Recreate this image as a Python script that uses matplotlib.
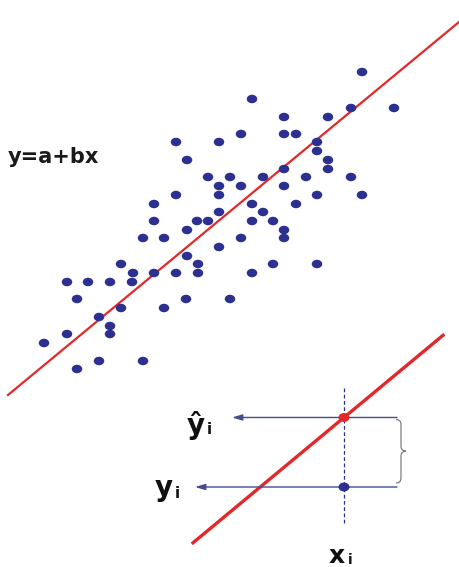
import numpy as np
import matplotlib
matplotlib.use("Agg")
import matplotlib.pyplot as plt
from matplotlib.collections import EllipseCollection
from matplotlib.path import Path
from matplotlib.patches import PathPatch

# scatter points (pixel units, y grows downward)
pts_x = [362, 252, 394, 351, 284, 328, 241, 284, 296, 176, 219, 317, 317, 187,
         328, 328, 284, 208, 230, 263, 306, 351, 219, 241, 284, 176, 219, 317,
         362, 154, 252, 296, 219, 263, 154, 197, 208, 252, 273, 187, 284, 143,
         164, 241, 284, 219, 187, 121, 198, 273, 317, 133, 154, 176, 198, 252,
         67, 88, 110, 132, 77, 186, 230, 121, 164, 99, 110, 67, 110, 44, 99,
         143, 77]
pts_y = [72, 99, 108, 108, 117, 117, 134, 134, 134, 142, 142, 142, 151, 160,
         160, 169, 169, 177, 177, 177, 177, 177, 186, 186, 186, 195, 195, 195,
         195, 204, 204, 204, 212, 212, 221, 221, 221, 221, 221, 230, 230, 238,
         238, 238, 238, 247, 256, 264, 264, 264, 264, 273, 273, 273, 273, 273,
         282, 282, 282, 282, 299, 299, 299, 308, 308, 317, 326, 334, 334, 343,
         361, 361, 369]

# fitted line y = a + b x
fit_a, fit_b = 401.6, -0.827
fit_x = [8, 460]

# inset: one observation vs its prediction
ins_a, ins_b = 703.0, -0.83
ins_x = [193, 443]
xi = 344
yi_obs = 487
yi_hat = ins_a + ins_b * xi

navy = "#2C3090"
red = "#E4282A"

fig = plt.figure(figsize=(4.6, 5.67), dpi=100)
ax = fig.add_axes([0, 0, 1, 1])
ax.set_xlim(0, 460)
ax.set_ylim(567, 0)
ax.axis("off")

# main scatter, slightly wide ellipses
n = len(pts_x)
ec = EllipseCollection(np.full(n, 10.5), np.full(n, 8.5), np.zeros(n), units="xy",
                       offsets=np.column_stack([pts_x, pts_y]),
                       offset_transform=ax.transData, facecolors=navy,
                       edgecolors="none", zorder=3)
ax.add_collection(ec)

fx = np.array(fit_x)
ax.plot(fx, fit_a + fit_b * fx, color=red, lw=1.6, zorder=2)
ax.text(8, 157, "y=a+bx", fontsize=15, fontweight="bold", color="#1a1a1a",
        va="center", ha="left")

# inset diagram
ix = np.array(ins_x)
ax.plot(ix, ins_a + ins_b * ix, color=red, lw=2.4, zorder=2)
ax.plot([xi, xi], [388, 525], color=navy, lw=0.9, ls=(0, (3, 2)), zorder=1)

for yy, x_end in [(yi_hat, 232), (yi_obs, 195)]:
    ax.annotate("", xy=(x_end, yy), xytext=(397, yy),
                arrowprops=dict(arrowstyle="-|>,head_length=0.6,head_width=0.18",
                                color="#474C8E", lw=1.0, shrinkA=0, shrinkB=0))

ec2 = EllipseCollection([11, 11], [9, 9], [0, 0], units="xy",
                        offsets=[[xi, yi_hat], [xi, yi_obs]],
                        offset_transform=ax.transData,
                        facecolors=[red, navy], edgecolors="none", zorder=4)
ax.add_collection(ec2)

# curly brace between the two levels
top, bot = yi_hat + 2, yi_obs - 4
mid = (top + bot) / 2
bx0, bx1, bx2 = 396, 401, 406
verts = [(bx0, top), (bx1, top), (bx1, top + 5),
         (bx1, mid - 5),
         (bx1, mid), (bx2, mid), (bx2, mid),
         (bx1, mid), (bx1, mid + 5),
         (bx1, bot - 5),
         (bx1, bot), (bx0, bot)]
codes = [Path.MOVETO, Path.CURVE3, Path.CURVE3,
         Path.LINETO,
         Path.CURVE4, Path.CURVE4, Path.CURVE4,
         Path.CURVE3, Path.CURVE3,
         Path.LINETO,
         Path.CURVE3, Path.CURVE3]
ax.add_patch(PathPatch(Path(verts, codes), fill=False, edgecolor="#7d7d7d", lw=0.9))

ax.text(196, 426, "\u0177", fontsize=20, fontweight="bold", color="#111111",
        ha="center", va="center")
ax.text(209, 430, "i", fontsize=11, fontweight="bold", color="#111111",
        ha="center", va="center")
ax.text(164, 488, "y", fontsize=20, fontweight="bold", color="#111111",
        ha="center", va="center")
ax.text(177, 493, "i", fontsize=11, fontweight="bold", color="#111111",
        ha="center", va="center")
ax.text(337, 556, "x", fontsize=18, fontweight="bold", color="#111111",
        ha="center", va="center")
ax.text(350, 560, "i", fontsize=10, fontweight="bold", color="#111111",
        ha="center", va="center")

fig.savefig("out.png", dpi=100)
